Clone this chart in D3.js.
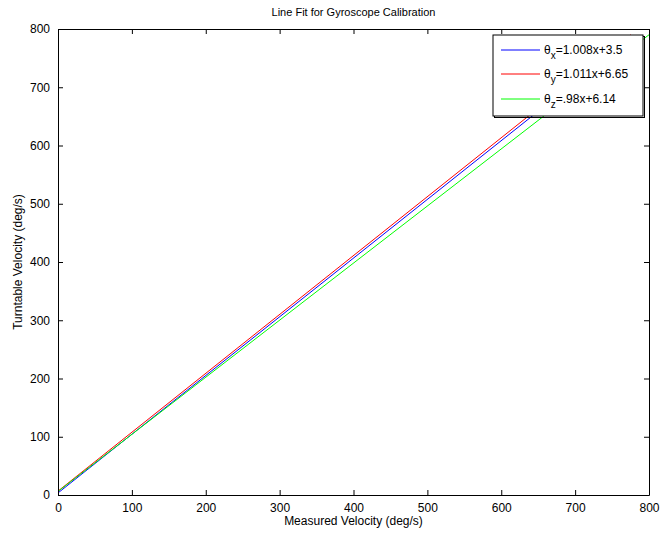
<!DOCTYPE html>
<html>
<head>
<meta charset="utf-8">
<script src="https://cdn.jsdelivr.net/npm/d3@7"></script>
<style>
  body { margin: 0; background: #fff; }
  text { font-family: "Liberation Sans", Arial, sans-serif; fill: #000; }
</style>
</head>
<body>
<script>
'use strict';

// chart values
const xTicks = [0, 100, 200, 300, 400, 500, 600, 700, 800];
const yTicks = [0, 100, 200, 300, 400, 500, 600, 700, 800];
const seriesNames = ["x", "y", "z"];
const seriesLabels = ["=1.008x+3.5", "=1.011x+6.65", "=.98x+6.14"];
const seriesColors = ["#0000ff", "#ff0000", "#00ff00"];
// fitted line end points (x, y)
const blueX = [0, 775];
const blueY = [3.5, 784.7];
const redX = [0, 775];
const redY = [6.65, 790.2];
const greenX = [0, 800];
const greenY = [6.14, 790.1];

(function() {
  const W = 661, H = 534;
  const left = 58, right = 649, top = 29, bottom = 495;

  const svg = d3.select('body').append('svg')
    .attr('width', W).attr('height', H);

  const x = d3.scaleLinear().domain([0, 800]).range([left, right]);
  const y = d3.scaleLinear().domain([0, 800]).range([bottom, top]);

  svg.append('defs').append('clipPath').attr('id', 'plotclip')
    .append('rect')
    .attr('x', left).attr('y', top)
    .attr('width', right - left).attr('height', bottom - top);

  // lines
  const series = [[blueX, blueY], [redX, redY], [greenX, greenY]];
  const line = d3.line().x((d) => x(d[0])).y((d) => y(d[1]));
  const plot = svg.append('g').attr('clip-path', 'url(#plotclip)');
  series.forEach((s, i) => {
    plot.append('path')
      .datum(s[0].map((v, j) => [v, s[1][j]]))
      .attr('d', line)
      .attr('fill', 'none')
      .attr('stroke', seriesColors[i])
      .attr('stroke-width', 1);
  });

  // axes, ticks inward, mirrored on top and right
  const tickLen = 5;
  svg.append('g').attr('transform', `translate(0,${bottom})`)
    .call(d3.axisBottom(x).tickValues(xTicks).tickSizeInner(-tickLen).tickSizeOuter(0).tickPadding(8));
  svg.append('g').attr('transform', `translate(0,${top})`)
    .call(d3.axisTop(x).tickValues(xTicks).tickSizeInner(-tickLen).tickSizeOuter(0).tickFormat(''));
  svg.append('g').attr('transform', `translate(${left},0)`)
    .call(d3.axisLeft(y).tickValues(yTicks).tickSizeInner(-tickLen).tickSizeOuter(0).tickPadding(8));
  svg.append('g').attr('transform', `translate(${right},0)`)
    .call(d3.axisRight(y).tickValues(yTicks).tickSizeInner(-tickLen).tickSizeOuter(0).tickFormat(''));

  svg.selectAll('.domain').attr('stroke', '#000');
  svg.selectAll('.tick line').attr('stroke', '#000');
  svg.selectAll('.tick text')
    .style('font-family', '"Liberation Sans", Arial, sans-serif')
    .style('font-size', '12px');

  // titles
  svg.append('text')
    .attr('x', (left + right) / 2).attr('y', 16)
    .attr('text-anchor', 'middle')
    .style('font-size', '11px')
    .text('Line Fit for Gyroscope Calibration');

  svg.append('text')
    .attr('x', (left + right) / 2).attr('y', 525)
    .attr('text-anchor', 'middle')
    .style('font-size', '12px')
    .text('Measured Velocity (deg/s)');

  svg.append('text')
    .attr('transform', `translate(22, ${(top + bottom) / 2})rotate(-90)`)
    .attr('text-anchor', 'middle')
    .style('font-size', '12px')
    .text('Turntable Velocity (deg/s)');

  // legend
  const lx = 493, ly = 35, lw = 150, lh = 81;
  svg.append('rect')
    .attr('x', lx + 1.5).attr('y', ly + 1.5)
    .attr('width', lw).attr('height', lh)
    .attr('fill', 'none').attr('stroke', '#000').attr('stroke-width', 1);
  svg.append('rect')
    .attr('x', lx).attr('y', ly)
    .attr('width', lw).attr('height', lh)
    .attr('fill', '#fff').attr('stroke', '#000').attr('stroke-width', 1);

  const rowY = [50, 74, 99];
  seriesNames.forEach((n, i) => {
    svg.append('line')
      .attr('x1', 501).attr('x2', 540)
      .attr('y1', rowY[i]).attr('y2', rowY[i])
      .attr('stroke', seriesColors[i]);
    const t = svg.append('text')
      .attr('x', 544).attr('y', rowY[i] + 4)
      .style('font-size', '12px');
    t.append('tspan').text('θ');
    t.append('tspan').attr('dy', 5).style('font-size', '10px').text(n);
    t.append('tspan').attr('dy', -5).text(seriesLabels[i]);
  });
})();
</script>
</body>
</html>
